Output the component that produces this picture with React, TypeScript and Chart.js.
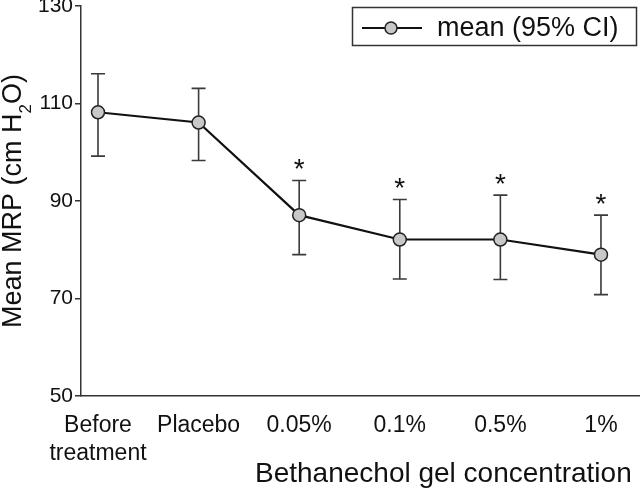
import { useEffect, useRef } from 'react';
import { Chart, registerables } from 'chart.js';

Chart.register(...registerables);

const categories: (string | string[])[] = [['Before', 'treatment'], 'Placebo', '0.05%', '0.1%', '0.5%', '1%'];
const meanValues = [108.2, 106.1, 87.1, 82.1, 82.1, 79.0];
const ciLower = [99.2, 98.3, 79.0, 74.0, 73.9, 70.8];
const ciUpper = [116.1, 113.1, 94.2, 90.3, 91.2, 87.1];
const significant = [false, false, true, true, true, true];
const yTicks = [50, 70, 90, 110, 130];
const seriesLabel = 'mean (95% CI)';
const yTitleParts = ['Mean MRP (cm H', '2', 'O)'];
const xTitle = 'Bethanechol gel concentration';

const FONT = '"Liberation Sans", Arial, Helvetica, sans-serif';
const INK = '#111111';
const AXIS = '#333333';

const errorBarPlugin = {
  id: 'errorBars',
  beforeDatasetsDraw(chart: any) {
    const { ctx, scales } = chart;
    const x = scales.x;
    const y = scales.y;
    ctx.save();
    ctx.strokeStyle = '#3a3a3a';
    ctx.lineWidth = 1.6;
    categories.forEach((_, i) => {
      const px = x.getPixelForValue(i);
      const top = y.getPixelForValue(ciUpper[i]);
      const bot = y.getPixelForValue(ciLower[i]);
      ctx.beginPath();
      ctx.moveTo(px, top);
      ctx.lineTo(px, bot);
      ctx.moveTo(px - 7, top);
      ctx.lineTo(px + 7, top);
      ctx.moveTo(px - 7, bot);
      ctx.lineTo(px + 7, bot);
      ctx.stroke();
      if (significant[i]) {
        ctx.fillStyle = INK;
        ctx.font = `28px ${FONT}`;
        ctx.textAlign = 'center';
        ctx.textBaseline = 'alphabetic';
        ctx.fillText('*', px, top - 2.5);
      }
    });
    ctx.restore();
  },
};

const decorPlugin = {
  id: 'decor',
  afterDraw(chart: any) {
    const { ctx, chartArea } = chart;
    ctx.save();
    // Legend box
    ctx.strokeStyle = AXIS;
    ctx.lineWidth = 1.5;
    ctx.strokeRect(352.5, 7.5, 284, 38);
    ctx.strokeStyle = INK;
    ctx.lineWidth = 2.2;
    ctx.beginPath();
    ctx.moveTo(362, 28);
    ctx.lineTo(422, 28);
    ctx.stroke();
    ctx.beginPath();
    ctx.arc(391, 28, 6, 0, Math.PI * 2);
    ctx.fillStyle = '#c8c8c8';
    ctx.fill();
    ctx.lineWidth = 1.5;
    ctx.strokeStyle = '#222';
    ctx.stroke();
    ctx.fillStyle = INK;
    ctx.font = `27px ${FONT}`;
    ctx.textAlign = 'left';
    ctx.textBaseline = 'middle';
    ctx.fillText(seriesLabel, 437, 29);

    // X title
    ctx.font = `28px ${FONT}`;
    ctx.textBaseline = 'alphabetic';
    ctx.textAlign = 'left';
    ctx.fillText(xTitle, 255, 482);

    // Y title with subscript
    const cy = (chartArea.top + chartArea.bottom) / 2;
    ctx.translate(21, cy);
    ctx.rotate(-Math.PI / 2);
    const big = `27px ${FONT}`;
    const small = `17px ${FONT}`;
    ctx.font = big;
    const w1 = ctx.measureText(yTitleParts[0]).width;
    const w3 = ctx.measureText(yTitleParts[2]).width;
    ctx.font = small;
    const w2 = ctx.measureText(yTitleParts[1]).width;
    let sx = -(w1 + w2 + w3) / 2;
    ctx.textAlign = 'left';
    ctx.font = big;
    ctx.fillText(yTitleParts[0], sx, 0);
    sx += w1;
    ctx.font = small;
    ctx.fillText(yTitleParts[1], sx, 10);
    sx += w2;
    ctx.font = big;
    ctx.fillText(yTitleParts[2], sx, 0);
    ctx.restore();
  },
};

export default function App() {
  const ref = useRef<HTMLCanvasElement | null>(null);

  useEffect(() => {
    document.body.style.margin = '0';
    const canvas = ref.current;
    if (!canvas) return;
    const chart = new Chart(canvas, {
      type: 'line',
      data: {
        datasets: [
          {
            label: seriesLabel,
            data: meanValues.map((v, i) => ({ x: i, y: v })),
            borderColor: INK,
            borderWidth: 2.2,
            pointRadius: 6.5,
            pointBackgroundColor: '#c8c8c8',
            pointBorderColor: '#222',
            pointBorderWidth: 1.5,
            tension: 0,
            fill: false,
            clip: false,
          },
        ],
      },
      options: {
        animation: false,
        responsive: false,
        devicePixelRatio: 1,
        layout: { autoPadding: false, padding: { top: 6, left: 0, right: 0, bottom: 0 } },
        plugins: {
          legend: { display: false },
          tooltip: { enabled: false },
        },
        scales: {
          x: {
            type: 'linear',
            min: -0.169,
            max: 5.388,
            bounds: 'data',
            grid: { display: false, drawTicks: false },
            border: { display: true, color: AXIS, width: 1.5 },
            ticks: {
              autoSkip: false,
              maxRotation: 0,
              padding: 16,
              color: INK,
              font: { size: 23, family: FONT, lineHeight: 1.2 },
              callback: (v: any) => categories[v as number] ?? '',
            },
            afterBuildTicks: (s: any) => {
              s.ticks = categories.map((_, i) => ({ value: i }));
            },
            afterFit: (s: any) => {
              s.height = 92;
              s.paddingLeft = 0;
              s.paddingRight = 0;
            },
          },
          y: {
            min: 50,
            max: 130,
            grid: { drawOnChartArea: false, drawTicks: true, tickLength: 6, color: AXIS, lineWidth: 1.5 },
            border: { display: true, color: AXIS, width: 1.5 },
            ticks: {
              padding: 2,
              color: INK,
              font: { size: 21, family: FONT },
            },
            afterBuildTicks: (s: any) => {
              s.ticks = yTicks.map((v) => ({ value: v }));
            },
            afterFit: (s: any) => {
              s.width = 81;
              s.paddingTop = 0;
              s.paddingBottom = 0;
            },
          },
        },
      },
      plugins: [errorBarPlugin, decorPlugin],
    });
    return () => chart.destroy();
  }, []);

  return (
    <div style={{ width: 640, height: 488 }}>
      <canvas ref={ref} width={640} height={488} style={{ display: 'block', width: 640, height: 488 }} />
    </div>
  );
}
